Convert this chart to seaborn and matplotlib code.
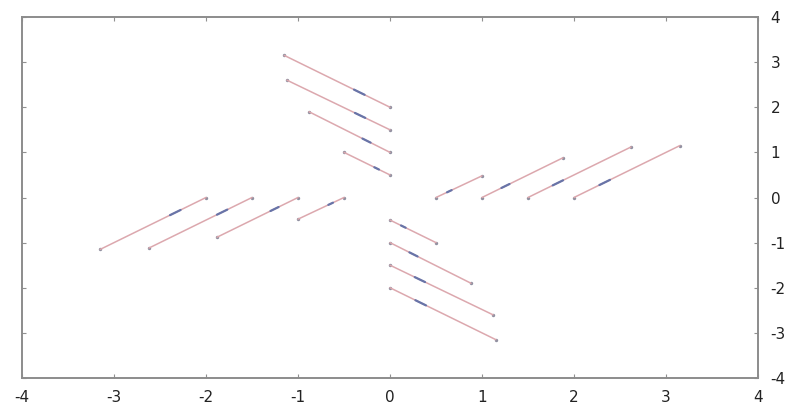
import numpy as np
import pandas as pd
import matplotlib
matplotlib.use("Agg")
import matplotlib.pyplot as plt
import seaborn as sns

# Vector tails (points on the axes) and displacements
x_start = [0.5, 1.0, 1.5, 2.0, 0.0, 0.0, 0.0, 0.0, -0.5, -1.0, -1.5, -2.0, 0.0, 0.0, 0.0, 0.0]
y_start = [0.0, 0.0, 0.0, 0.0, 0.5, 1.0, 1.5, 2.0, 0.0, 0.0, 0.0, 0.0, -0.5, -1.0, -1.5, -2.0]
dx = [0.5, 0.88, 1.12, 1.15, -0.5, -0.88, -1.12, -1.15, -0.5, -0.88, -1.12, -1.15, 0.5, 0.88, 1.12, 1.15]
dy = [0.48, 0.88, 1.12, 1.15, 0.5, 0.9, 1.1, 1.15, -0.48, -0.88, -1.12, -1.15, -0.5, -0.9, -1.1, -1.15]

x_ticks = [-4, -3, -2, -1, 0, 1, 2, 3, 4]
y_ticks = [-4, -3, -2, -1, 0, 1, 2, 3, 4]

sns.set_theme(style="white")
plt.rcParams['font.family'] = ['DejaVu Sans']

rows, mid_rows, end_rows = [], [], []
for i, (x0, y0, ddx, ddy) in enumerate(zip(x_start, y_start, dx, dy)):
    rows.append(dict(v=i, x=x0, y=y0))
    rows.append(dict(v=i, x=x0 + ddx, y=y0 + ddy))
    mid_rows.append(dict(v=i, x=x0 + 0.24 * ddx, y=y0 + 0.24 * ddy))
    mid_rows.append(dict(v=i, x=x0 + 0.34 * ddx, y=y0 + 0.34 * ddy))
    end_rows.append(dict(x=x0, y=y0))
    end_rows.append(dict(x=x0 + ddx, y=y0 + ddy))
df = pd.DataFrame(rows)
df_mid = pd.DataFrame(mid_rows)
df_end = pd.DataFrame(end_rows)

fig = plt.figure(figsize=(7.87, 4.16), dpi=100)
ax = fig.add_axes([22 / 787, 38 / 416, 736 / 787, 361 / 416])

sns.lineplot(data=df, x="x", y="y", units="v", estimator=None, sort=False,
             color="#dca8ae", linewidth=1.1, ax=ax)
sns.lineplot(data=df_mid, x="x", y="y", units="v", estimator=None, sort=False,
             color="#6874a8", linewidth=1.6, ax=ax)
sns.scatterplot(data=df_end, x="x", y="y", color="#9090a0", s=6, linewidth=0, ax=ax)

ax.set_xlim(-4, 4)
ax.set_ylim(-4, 4)
ax.set_xticks(x_ticks)
ax.set_yticks(y_ticks)
ax.set_xticklabels([str(t) for t in x_ticks])
ax.set_yticklabels([str(t) for t in y_ticks])
ax.set_xlabel("")
ax.set_ylabel("")
ax.yaxis.tick_right()
ax.tick_params(axis="both", which="both", direction="in", length=3, width=0.8,
               color="#909090", labelsize=11, labelcolor="#222222",
               top=True, bottom=True, left=True, right=True,
               labelleft=False, labelright=True, labeltop=False, labelbottom=True)
ax.tick_params(axis="x", pad=9)
ax.tick_params(axis="y", pad=9)
for s in ax.spines.values():
    s.set_visible(True)
    s.set_color("#8c8c8c")
    s.set_linewidth(1.4)
ax.grid(False)

fig.savefig("out.png", dpi=100)
